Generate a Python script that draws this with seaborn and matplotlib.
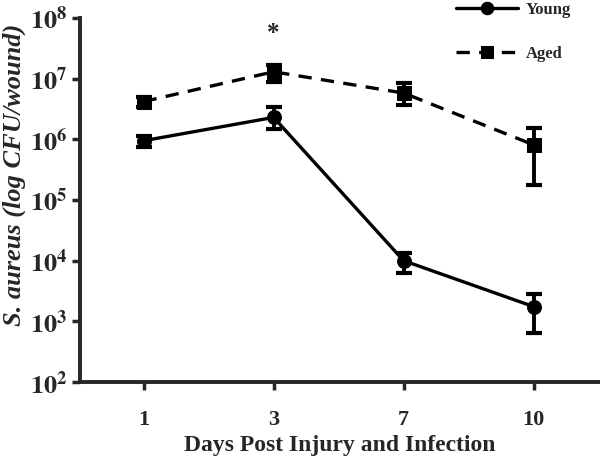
import numpy as np
import pandas as pd
import matplotlib
matplotlib.use("Agg")
import matplotlib.pyplot as plt
import seaborn as sns

# values
days = ["1", "3", "7", "10"]
young_mean = [9.5e5, 2.3e6, 1.0e4, 1.75e3]
young_lo = [7.6e5, 1.5e6, 6.3e3, 6.5e2]
young_hi = [1.15e6, 3.4e6, 1.35e4, 2.8e3]
aged_mean = [4.2e6, 1.3e7, 5.8e6, 8.1e5]
aged_lo = [3.4e6, 8.9e6, 3.7e6, 1.8e5]
aged_hi = [5.0e6, 1.7e7, 8.5e6, 1.55e6]

df = pd.DataFrame({
    "day": days * 2,
    "cfu": young_mean + aged_mean,
    "group": ["Young"] * 4 + ["Aged"] * 4,
})
df["pos"] = list(range(4)) * 2

sns.set_style("ticks")
plt.rcParams["font.family"] = ["Liberation Serif", "DejaVu Serif"]
plt.rcParams["font.weight"] = "bold"
plt.rcParams["mathtext.fontset"] = "stix"

fig = plt.figure(figsize=(6, 4.62), dpi=100)
ax = fig.add_axes([0.133, 0.173, 0.865, 0.788])

sns.lineplot(data=df, x="pos", y="cfu", hue="group", style="group",
             markers={"Young": "o", "Aged": "s"},
             dashes={"Young": "", "Aged": (4, 2.8)},
             palette={"Young": "black", "Aged": "black"},
             markersize=10, linewidth=2.4, markeredgecolor="black",
             ax=ax, legend=True)

x = np.arange(len(days))
for m, lo, hi in [(young_mean, young_lo, young_hi), (aged_mean, aged_lo, aged_hi)]:
    m = np.array(m)
    yerr = [m - np.array(lo), np.array(hi) - m]
    ax.errorbar(x, m, yerr=yerr, fmt="none", ecolor="black", elinewidth=2.8,
                capsize=6, capthick=3)

ax.text(1, 5.5e7, "*", ha="center", va="center", fontsize=18, fontweight="bold")

ax.set_yscale("log")
ax.set_ylim(1e2, 1e8)
ax.set_xlim(-0.49, 3.5)
ax.set_xticks(x)
ax.set_xticklabels(days)
ax.set_yticks([1e2, 1e3, 1e4, 1e5, 1e6, 1e7, 1e8])
ax.set_yticklabels([r"$\mathbf{10^{%d}}$" % e for e in range(2, 9)])

ax.tick_params(axis="both", width=2.5, length=6, direction="out")
ax.tick_params(axis="x", labelsize=16, pad=14)
ax.tick_params(axis="y", labelsize=19, pad=3)
ax.tick_params(axis="y", which="minor", width=1.8, length=4)
for s in ["left", "bottom"]:
    ax.spines[s].set_linewidth(2.8)
sns.despine(ax=ax)

ax.set_xlabel("Days Post Injury and Infection", fontsize=17, fontweight="bold", labelpad=4)
ax.set_ylabel("S. aureus (log CFU/wound)", fontsize=19, fontweight="bold",
              fontstyle="italic")
ax.yaxis.set_label_coords(-0.104, 0.57)

leg = ax.legend(loc="upper right", bbox_to_anchor=(0.976, 1.085), frameon=False,
                fontsize=12, handlelength=3.7, labelspacing=1.65, markerscale=0.9,
                handletextpad=0.5)
for t in leg.get_texts():
    t.set_fontweight("bold")

fig.savefig("out.png", dpi=100)
